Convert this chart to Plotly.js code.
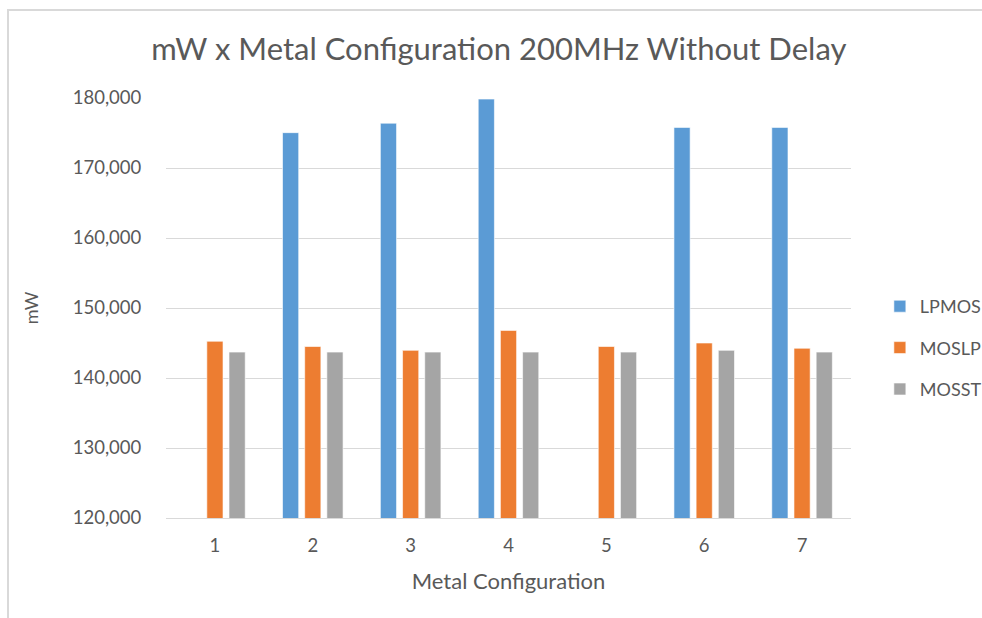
<!DOCTYPE html>
<html>
<head>
<meta charset="utf-8">
<script src="https://cdn.plot.ly/plotly-3.0.1.min.js"></script>
<style>
  html, body { margin: 0; padding: 0; background: #ffffff; }
  #wrap { position: relative; width: 982px; height: 618px; overflow: hidden; }
  #chart { position: absolute; left: 0; top: 0; width: 982px; height: 618px; }
  .edge { position: absolute; background: #d9d9d9; }
</style>
</head>
<body>
<div id="wrap">
  <div id="chart"></div>
  <div class="edge" style="left:7px; top:9px; width:975px; height:2px;"></div>
  <div class="edge" style="left:7px; top:9px; width:2px; height:609px;"></div>
</div>
<script>
// Power (mW) per metal configuration at 200 MHz, no delay
const configs = ['1', '2', '3', '4', '5', '6', '7'];
const lpmos = [null, 175050, 176400, 179850, null, 175800, 175800];
const moslp = [145250, 144500, 143950, 146800, 144500, 145000, 144250];
const mosst = [143700, 143700, 143700, 143700, 143700, 143950, 143700];

const seriesNames = ['LPMOS', 'MOSLP', 'MOSST'];
const seriesColors = ['#5b9bd5', '#ed7d31', '#a5a5a5'];
const seriesValues = [lpmos, moslp, mosst];

const textColor = '#595959';
const fontFam = 'Lato, "Open Sans", sans-serif';

const traces = seriesNames.map((name, i) => ({
  type: 'bar',
  name: name,
  x: configs,
  y: seriesValues[i],
  legendgroup: name,
  marker: { color: seriesColors[i], line: { color: 'rgba(255,255,255,0.6)', width: 1 } },
  hoverinfo: 'x+y+name'
}));

const layout = {
  width: 982,
  height: 618,
  margin: { l: 166, r: 131, t: 98, b: 100, pad: 0 },
  paper_bgcolor: '#ffffff',
  plot_bgcolor: '#ffffff',
  font: { family: fontFam, color: textColor, size: 16 },
  title: {
    text: 'mW x Metal Configuration 200MHz Without Delay',
    font: { family: fontFam, size: 31, color: textColor },
    x: 0.508, xanchor: 'center', xref: 'container',
    y: 50, yref: 'container', yanchor: 'middle'
  },
  barmode: 'group',
  bargap: 0.32,
  bargroupgap: 0.27,
  xaxis: {
    type: 'category',
    showgrid: false,
    showline: true,
    linecolor: '#d9d9d9',
    linewidth: 1,
    automargin: false,
    ticks: 'outside',
    ticklen: 11,
    tickcolor: 'rgba(0,0,0,0)',
    tickfont: { size: 18.5, color: textColor },
    title: { text: 'Metal Configuration', font: { size: 22, color: textColor }, standoff: 18 },
    fixedrange: true
  },
  yaxis: {
    range: [120000, 180000],
    dtick: 10000,
    tick0: 120000,
    tickformat: ',d',
    showgrid: true,
    gridcolor: '#d9d9d9',
    gridwidth: 1,
    zeroline: false,
    showline: false,
    automargin: false,
    ticks: 'outside',
    ticklen: 20,
    tickcolor: 'rgba(0,0,0,0)',
    tickfont: { size: 18.5, color: textColor },
    title: { text: 'mW', font: { size: 18, color: textColor }, standoff: 29 },
    fixedrange: true
  },
  legend: {
    xref: 'container', yref: 'container',
    x: 0.896, xanchor: 'left',
    y: 1 - 348 / 618, yanchor: 'middle',
    font: { size: 18, color: textColor },
    traceorder: 'grouped',
    tracegroupgap: 15,
    itemwidth: 30,
    bgcolor: 'rgba(0,0,0,0)'
  },
  showlegend: true
};

Plotly.newPlot('chart', traces, layout, { displayModeBar: false, staticPlot: true });
</script>
</body>
</html>
